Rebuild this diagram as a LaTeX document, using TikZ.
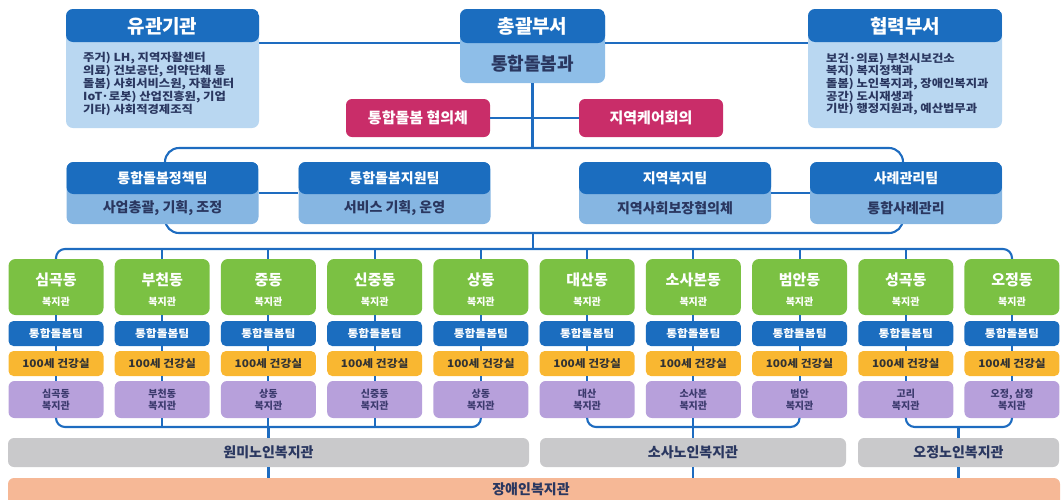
\documentclass[tikz,border=0pt]{standalone}
\usepackage{fontspec}
\setmainfont{Noto Sans CJK KR}
\newfontfamily\widekr{Noto Sans CJK KR}[FakeStretch=1.12]
\usetikzlibrary{calc}

\definecolor{hdrblue}{HTML}{1B6DBF}
\definecolor{bodyblue}{HTML}{B9D7F1}
\definecolor{midblue}{HTML}{8EBEE8}
\definecolor{teamblue}{HTML}{86B6E2}
\definecolor{linkblue}{HTML}{1E6CC0}
\definecolor{careRed}{HTML}{C92D69}
\definecolor{dongGreen}{HTML}{7BC143}
\definecolor{healthOrange}{HTML}{F9B731}
\definecolor{centerPurple}{HTML}{B7A0DB}
\definecolor{seniorGray}{HTML}{C9C9CB}
\definecolor{disabSalmon}{HTML}{F6B896}
\definecolor{inkNavy}{HTML}{2A3760}
\definecolor{purpleInk}{HTML}{3C3A6E}

\begin{document}
\begin{tikzpicture}[
  x=1pt, y=-1pt,
  every node/.style={inner sep=0pt, font=\bfseries},
  link/.style={draw=linkblue, line width=2.1pt},
  % box with a dark header band of height #1 over a body of colour #2
  twobox/.style 2 args={rounded corners=7pt, fill=#2,
    path picture={\fill[hdrblue] (path picture bounding box.north west)
      rectangle ([yshift=-#1]path picture bounding box.north east);}},
  head/.style={text=white, font=\bfseries\fontsize{19}{19}\selectfont},
  subhead/.style={text=inkNavy, font=\bfseries\fontsize{18}{18}\selectfont},
  note/.style={text=inkNavy, align=left, anchor=west,
    font=\widekr\bfseries\fontsize{11}{11.2}\selectfont},
  teamhead/.style={text=white, font=\bfseries\fontsize{14}{14}\selectfont},
  teamsub/.style={text=inkNavy, font=\bfseries\fontsize{14}{14}\selectfont},
  care/.style={fill=careRed, rounded corners=6pt, text=white,
    minimum width=144pt, minimum height=38pt,
    font=\bfseries\fontsize{15}{15}\selectfont},
  dong/.style={fill=dongGreen, rounded corners=7pt,
    minimum width=95pt, minimum height=56pt},
  dongname/.style={text=white, font=\bfseries\fontsize{15}{15}\selectfont},
  dongsub/.style={text=white, font=\bfseries\fontsize{10}{10}\selectfont},
  team/.style={fill=hdrblue, rounded corners=5pt, text=white,
    minimum width=95pt, minimum height=25pt,
    font=\widekr\bfseries\fontsize{10.5}{10.5}\selectfont},
  health/.style={fill=healthOrange, rounded corners=5pt, text=black!80,
    minimum width=95pt, minimum height=25pt,
    font=\widekr\bfseries\fontsize{10.5}{10.5}\selectfont},
  centre/.style={fill=centerPurple, rounded corners=6pt, text=purpleInk,
    minimum width=95pt, minimum height=37pt, align=center,
    font=\bfseries\fontsize{10}{12.5}\selectfont},
  senior/.style={fill=seniorGray, rounded corners=6pt, text=inkNavy,
    minimum height=29pt, font=\bfseries\fontsize{14}{14}\selectfont}]

  \useasboundingbox (0,0) rectangle (1062,499);

  % top row
  \node[twobox={33pt}{bodyblue}, minimum width=193pt, minimum height=119pt] (yg) at (162.5,68.5) {};
  \node[head] (yg-t) at (162.5,26) {유관기관};
  \node[note] (yg-b) at (83,84) {주거) LH, 지역자활센터\\의료) 건보공단, 의약단체 등\\돌봄) 사회서비스원, 자활센터\\IoT·로봇) 산업진흥원, 기업\\기타) 사회적경제조직};

  \node[twobox={34pt}{midblue}, minimum width=145pt, minimum height=74pt] (cg) at (532.5,46) {};
  \node[head] (cg-t) at (532.5,26) {총괄부서};
  \node[subhead] (cg-b) at (532.5,64) {통합돌봄과};

  \node[twobox={33pt}{bodyblue}, minimum width=194pt, minimum height=119pt] (hr) at (905,68.5) {};
  \node[head] (hr-t) at (905,26) {협력부서};
  \node[note] (hr-b) at (826,84) {보건·의료) 부천시보건소\\복지) 복지정책과\\돌봄) 노인복지과, 장애인복지과\\공간) 도시재생과\\기반) 행정지원과, 예산법무과};

  % councils
  \node[care] (hy) at (418,118) {통합돌봄 협의체};
  \node[care] (jk) at (651,118) {지역케어회의};

  % teams, over their bracket
  \node[draw=linkblue, line width=2.1pt, rounded corners=14pt,
    minimum width=738pt, minimum height=85pt] (br) at (534,190.5) {};
  \foreach \n/\x/\tname/\tsub in {tp/162.5/통합돌봄정책팀/{사업총괄, 기획, 조정},
      ts/394.5/통합돌봄지원팀/{서비스 기획, 운영},
      tj/675/지역복지팀/지역사회보장협의체,
      tc/906/사례관리팀/통합사례관리}{
    \node[twobox={32pt}{teamblue}, minimum width=192pt, minimum height=62pt] (\n) at (\x,193) {};
    \node[teamhead] (\n-t) at (\x,178) {\tname};
    \node[teamsub] (\n-b) at (\x,208.5) {\tsub};
  }

  % districts
  \foreach \i/\dname/\cname in {1/심곡동/심곡동, 2/부천동/부천동, 3/중동/상동,
      4/신중동/신중동, 5/상동/상동, 6/대산동/대산, 7/소사본동/소사본,
      8/범안동/범안, 9/성곡동/고리, 10/오정동/{오정, 삼정}}{
    \pgfmathsetmacro\cx{56+106.22*(\i-1)}
    \node[dong] (g\i) at (\cx,287) {};
    \node[dongname] (gn\i) at (\cx,280) {\dname};
    \node[dongsub] (gs\i) at (\cx,302) {복지관};
    \node[team] (t\i) at (\cx,333.5) {통합돌봄팀};
    \node[health] (h\i) at (\cx,363.5) {100세 건강실};
    \node[centre] (c\i) at (\cx,399.5) {\cname\\복지관};
    \draw[link] (g\i) -- (t\i) (t\i) -- (h\i) (h\i) -- (c\i);
  }

  % senior and disability centres
  \node[senior, minimum width=521pt] (wm) at (268.5,452.5) {원미노인복지관};
  \node[senior, minimum width=306pt] (ss) at (693,452.5) {소사노인복지관};
  \node[senior, minimum width=201pt] (oj) at (958.5,452.5) {오정노인복지관};
  \node[fill=disabSalmon, rounded corners=6pt, minimum width=1052pt, minimum height=32pt] (jd) at (534,494) {};
  \node[text=inkNavy, font=\bfseries\fontsize{14}{14}\selectfont] (jd-t) at (531,489) {장애인복지관};

  % links
  \draw[link] ($(yg.north east)+(0,34)$) -- ($(cg.north west)+(0,34)$);
  \draw[link] ($(cg.north east)+(0,34)$) -- ($(hr.north west)+(0,34)$);
  \draw[link] (cg.south) -- (cg.south |- br.north);
  \draw[link] (hy) -- (jk);
  \draw[link] (tp) -- (ts);
  \draw[link] (tj) -- (tc);

  \coordinate (dl) at (533,249);
  \draw[link] (dl |- br.south) -- (dl);
  \draw[link, rounded corners=9pt] (g1.north) |- (dl) -| (g10.north);
  \foreach \i in {2,...,9} \draw[link] (g\i.north) -- (g\i.north |- dl);

  \coordinate (b1) at (268.4,427);
  \coordinate (b2) at (693.3,427);
  \coordinate (b3) at (958.9,427);
  \draw[link, rounded corners=9pt] (c1.south) |- (b1) -| (c5.south);
  \foreach \i in {2,3,4} \draw[link] (c\i.south) -- (c\i.south |- b1);
  \draw[link, rounded corners=9pt] (c6.south) |- (b2) -| (c8.south);
  \draw[link] (c7.south) -- (c7.south |- b2);
  \draw[link, rounded corners=9pt] (c9.south) |- (b3) -| (c10.south);

  \draw[link] (wm.north |- b1) -- (wm.north);
  \draw[link] (ss.north |- b2) -- (ss.north);
  \draw[link] (oj.north |- b3) -- (oj.north);
  \draw[link] (wm.south) -- (wm.south |- jd.north);
  \draw[link] (ss.south) -- (ss.south |- jd.north);
  \draw[link] (oj.south) -- (oj.south |- jd.north);
\end{tikzpicture}
\end{document}
